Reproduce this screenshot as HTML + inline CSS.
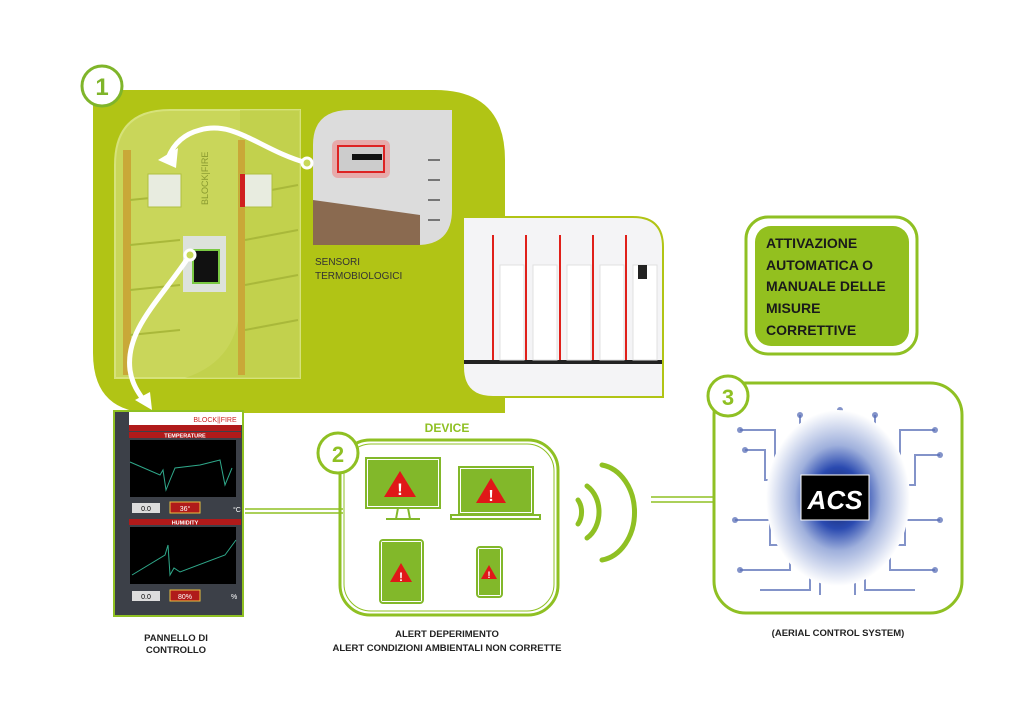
<!DOCTYPE html>
<html><head><meta charset="utf-8"><style>
body{margin:0;width:1030px;height:728px;background:#fff;overflow:hidden;font-family:"Liberation Sans",sans-serif}
svg{position:absolute;left:0;top:0}
</style></head><body>
<svg width="1030" height="728" viewBox="0 0 1030 728" xmlns="http://www.w3.org/2000/svg" font-family="Liberation Sans, sans-serif">
<defs>
<radialGradient id="brain" cx="50%" cy="50%" r="50%"><stop offset="0" stop-color="#0e1850"/><stop offset="0.35" stop-color="#2a4ab0"/><stop offset="0.6" stop-color="#9fb0dc"/><stop offset="1" stop-color="#fff"/></radialGradient>
</defs>
<!-- big green panel -->
<path d="M93 90 H435 Q505 90 505 160 V413 H153 Q93 413 93 353 Z" fill="#b1c415"/>
<circle cx="102" cy="86" r="20" fill="#fff" stroke="#7fb52a" stroke-width="3"/>
<text x="102" y="95" text-anchor="middle" font-size="24" font-weight="bold" fill="#7fb52a">1</text>
<!-- library photo -->
<path d="M170 110 H300 V378 H115 V165 Q115 110 170 110 Z" fill="#c9d65a" stroke="#d6e27a" stroke-width="2"/>
<path d="M300 110 V378 H185 Q240 360 240 300 V110Z" fill="#bccb3f" opacity="0.5"/>
<rect x="123" y="150" width="8" height="225" fill="#c9a838"/>
<rect x="238" y="140" width="7" height="235" fill="#c9a838"/>
<g stroke="#a9b83a" stroke-width="2">
<line x1="130" y1="200" x2="180" y2="195"/><line x1="130" y1="245" x2="180" y2="240"/><line x1="130" y1="290" x2="180" y2="285"/><line x1="130" y1="335" x2="180" y2="330"/>
<line x1="245" y1="195" x2="298" y2="185"/><line x1="245" y1="240" x2="298" y2="230"/><line x1="245" y1="285" x2="298" y2="275"/><line x1="245" y1="330" x2="298" y2="320"/>
</g>
<rect x="148" y="174" width="33" height="33" fill="#e8ece0" stroke="#b0c040"/>
<rect x="240" y="174" width="32" height="33" fill="#e8ece0" stroke="#b0c040"/><rect x="240" y="174" width="5" height="33" fill="#d02020"/>
<rect x="183" y="236" width="43" height="56" fill="#dde2dc"/>
<rect x="193" y="250" width="26" height="33" fill="#111" stroke="#7ac943" stroke-width="2"/>
<text x="208" y="205" font-size="9" fill="#8a9a30" transform="rotate(-90 208 205)">BLOCK|FIRE</text>
<!-- sensor photo -->
<path d="M350 110 H452 V210 Q452 245 417 245 H313 V145 Q313 110 350 110 Z" fill="#dcdcdc"/>
<path d="M313 200 L420 215 L420 245 H313Z" fill="#8a6a50"/>
<rect x="332" y="140" width="58" height="38" rx="6" fill="#e88" opacity="0.6"/>
<rect x="338" y="146" width="46" height="26" fill="#ccc" stroke="#d22" stroke-width="2"/>
<rect x="352" y="154" width="30" height="6" fill="#111"/>
<g stroke="#555" stroke-width="1.5"><line x1="428" y1="160" x2="440" y2="160"/><line x1="428" y1="180" x2="440" y2="180"/><line x1="428" y1="200" x2="440" y2="200"/><line x1="428" y1="220" x2="440" y2="220"/></g>
<text x="315" y="265" font-size="10" fill="#333">SENSORI</text>
<text x="315" y="279" font-size="10" fill="#333">TERMOBIOLOGICI</text>
<!-- white arrows -->
<path d="M307 163 C260 150 235 120 200 130 C180 135 172 148 168 158" fill="none" stroke="#fff" stroke-width="5"/>
<polygon points="158,160 178,148 176,168" fill="#fff"/>
<circle cx="307" cy="163" r="5" fill="#c8d85a" stroke="#fff" stroke-width="3"/>
<path d="M190 255 C160 300 125 330 130 370 C132 385 140 395 145 402" fill="none" stroke="#fff" stroke-width="5"/>
<polygon points="152,410 135,400 150,392" fill="#fff"/>
<circle cx="190" cy="255" r="5" fill="#c8d85a" stroke="#fff" stroke-width="3"/>
<!-- product photo -->
<path d="M463 217 H633 Q663 217 663 247 V397 H493 Q463 397 463 367 Z" fill="#f4f4f6" stroke="#b1c415" stroke-width="2"/>
<rect x="464" y="360" width="198" height="4" fill="#222"/>
<g fill="#fff" stroke="#e0e0e0"><rect x="500" y="265" width="24" height="95"/><rect x="533" y="265" width="24" height="95"/><rect x="567" y="265" width="24" height="95"/><rect x="600" y="265" width="24" height="95"/><rect x="633" y="265" width="24" height="95"/></g>
<g stroke="#e0201a" stroke-width="2"><line x1="493" y1="235" x2="493" y2="360"/><line x1="526" y1="235" x2="526" y2="360"/><line x1="560" y1="235" x2="560" y2="360"/><line x1="593" y1="235" x2="593" y2="360"/><line x1="626" y1="235" x2="626" y2="360"/></g>
<rect x="638" y="265" width="9" height="14" fill="#222"/>
<!-- attivazione box -->
<rect x="746" y="217" width="171" height="137" rx="22" fill="#fff" stroke="#8fc023" stroke-width="3"/>
<rect x="755" y="226" width="154" height="120" rx="16" fill="#93c01f"/>
<g font-size="14" font-weight="bold" fill="#1a1a1a">
<text x="766" y="248">ATTIVAZIONE</text><text x="766" y="270">AUTOMATICA O</text><text x="766" y="291">MANUALE DELLE</text><text x="766" y="313">MISURE</text><text x="766" y="335">CORRETTIVE</text></g>
<!-- box 3 -->
<rect x="714" y="383" width="248" height="230" rx="32" fill="#fff" stroke="#8fc023" stroke-width="3"/>
<g stroke="#5a70b8" stroke-width="2" fill="none" opacity="0.75">
<path d="M740 430 H775 V460 H795"/><path d="M745 450 H765 V480 H790"/><path d="M735 520 H770 V545 H790"/><path d="M740 570 H790 V540"/><path d="M760 590 H810 V560"/>
<path d="M935 430 H900 V460 H880"/><path d="M940 455 H915 V485 H885"/><path d="M940 520 H905 V545 H885"/><path d="M935 570 H890 V540"/><path d="M915 590 H865 V560"/>
<path d="M800 415 V440"/><path d="M840 410 V430"/><path d="M875 415 V440"/><path d="M820 595 V570"/><path d="M855 595 V570"/>
</g>
<g fill="#5a70b8" opacity="0.75"><circle cx="740" cy="430" r="3"/><circle cx="745" cy="450" r="3"/><circle cx="735" cy="520" r="3"/><circle cx="740" cy="570" r="3"/><circle cx="935" cy="430" r="3"/><circle cx="940" cy="455" r="3"/><circle cx="940" cy="520" r="3"/><circle cx="935" cy="570" r="3"/><circle cx="800" cy="415" r="3"/><circle cx="840" cy="410" r="3"/><circle cx="875" cy="415" r="3"/></g>
<ellipse cx="838" cy="498" rx="72" ry="88" fill="url(#brain)"/>
<rect x="801" y="475" width="68" height="45" fill="#000" stroke="#fff"/>
<text x="835" y="509" text-anchor="middle" font-size="26" font-weight="bold" font-style="italic" fill="#fff">ACS</text>
<circle cx="728" cy="396" r="20" fill="#fff" stroke="#8fc023" stroke-width="3"/>
<text x="728" y="405" text-anchor="middle" font-size="22" font-weight="bold" fill="#8fc023">3</text>
<text x="838" y="636" text-anchor="middle" font-size="9.5" font-weight="bold" fill="#222">(AERIAL CONTROL SYSTEM)</text>
<!-- wifi + line -->
<g fill="none" stroke="#8fc023" stroke-width="5" stroke-linecap="round">
<path d="M578 500 A14 18 0 0 1 578 524"/><path d="M587 486 A24 30 0 0 1 587 538"/><path d="M602 465 A38 48 0 0 1 602 560"/></g>
<path d="M651 497 H713 M651 502 H713" stroke="#8fc023" stroke-width="1.5"/>
<!-- device box -->
<text x="447" y="432" text-anchor="middle" font-size="12" font-weight="bold" fill="#8fc023">DEVICE</text>
<rect x="340" y="440" width="218" height="175" rx="30" fill="#fff" stroke="#8fc023" stroke-width="3"/>
<rect x="344" y="444" width="210" height="167" rx="27" fill="none" stroke="#8fc023" stroke-width="1"/>
<circle cx="338" cy="453" r="20" fill="#fff" stroke="#8fc023" stroke-width="3"/>
<text x="338" y="462" text-anchor="middle" font-size="22" font-weight="bold" fill="#8fc023">2</text>
<path d="M245 509 H343 M245 513 H343" stroke="#8fc023" stroke-width="1.5"/>
<g fill="#82b82a" stroke="#82b82a" stroke-width="2">
<rect x="366" y="458" width="74" height="50" fill="#fff"/><rect x="369" y="461" width="68" height="44"/>
<path d="M398 508 L396 519 M408 508 L410 519 M386 519 H420" fill="none"/>
<rect x="459" y="467" width="74" height="47" fill="#fff"/><rect x="462" y="470" width="68" height="41"/>
<rect x="451" y="515" width="89" height="4" fill="#fff"/>
<rect x="380" y="540" width="43" height="63" rx="3" fill="#fff"/><rect x="383" y="543" width="37" height="57"/>
<rect x="477" y="547" width="25" height="50" rx="3" fill="#fff"/><rect x="480" y="550" width="19" height="44"/>
</g>
<g fill="#e01818">
<polygon points="400,471 416,497 384,497"/><polygon points="491,478 506,503 476,503"/>
<polygon points="401,563 412,582 390,582"/><polygon points="489,565 497,579 481,579"/></g>
<g fill="#fff" font-weight="bold" text-anchor="middle"><text x="400" y="495" font-size="17">!</text><text x="491" y="501" font-size="16">!</text><text x="401" y="581" font-size="12">!</text><text x="489" y="578" font-size="9">!</text></g>
<text x="447" y="637" text-anchor="middle" font-size="9.5" font-weight="bold" fill="#222">ALERT DEPERIMENTO</text>
<text x="447" y="651" text-anchor="middle" font-size="9.5" font-weight="bold" fill="#222">ALERT CONDIZIONI AMBIENTALI  NON CORRETTE</text>
<!-- control panel -->
<rect x="113" y="410" width="131" height="207" fill="#8fc023"/>
<rect x="115" y="412" width="127" height="203" fill="#3c4048"/>
<rect x="129" y="412" width="113" height="13" fill="#fff"/>
<text x="215" y="422" font-size="7" fill="#c22" text-anchor="middle">BLOCK||FIRE</text>
<rect x="129" y="425" width="112" height="6" fill="#b01a1a"/>
<rect x="129" y="432" width="112" height="6" fill="#b01a1a"/>
<text x="185" y="437.5" text-anchor="middle" font-size="5.5" fill="#fff" font-weight="bold">TEMPERATURE</text>
<rect x="130" y="440" width="106" height="57" fill="#000"/>
<polyline points="130,462 160,475 163,470 166,490 170,480 175,468 200,465 220,460 225,485 232,468" fill="none" stroke="#2fa88a"/>
<rect x="132" y="503" width="28" height="10" fill="#ddd"/><text x="146" y="511" font-size="7" text-anchor="middle">0.0</text>
<rect x="170" y="502" width="30" height="11" fill="#b01a1a" stroke="#e8c040"/><text x="185" y="511" font-size="7" text-anchor="middle" fill="#fff">36°</text>
<text x="233" y="512" font-size="7" fill="#fff">°C</text>
<rect x="129" y="519" width="112" height="6" fill="#b01a1a"/>
<text x="185" y="524.5" text-anchor="middle" font-size="5.5" fill="#fff" font-weight="bold">HUMIDITY</text>
<rect x="130" y="527" width="106" height="57" fill="#000"/>
<polyline points="132,575 165,555 168,545 170,575 174,568 180,572 225,555 236,540" fill="none" stroke="#2fa88a"/>
<rect x="132" y="591" width="28" height="10" fill="#ddd"/><text x="146" y="599" font-size="7" text-anchor="middle">0.0</text>
<rect x="170" y="590" width="30" height="11" fill="#b01a1a" stroke="#e8c040"/><text x="185" y="599" font-size="7" text-anchor="middle" fill="#fff">80%</text>
<text x="231" y="599" font-size="7" fill="#fff">%</text>
<text x="176" y="641" text-anchor="middle" font-size="9.5" font-weight="bold" fill="#222">PANNELLO DI</text>
<text x="176" y="653" text-anchor="middle" font-size="9.5" font-weight="bold" fill="#222">CONTROLLO</text>
</svg>
</body></html>
